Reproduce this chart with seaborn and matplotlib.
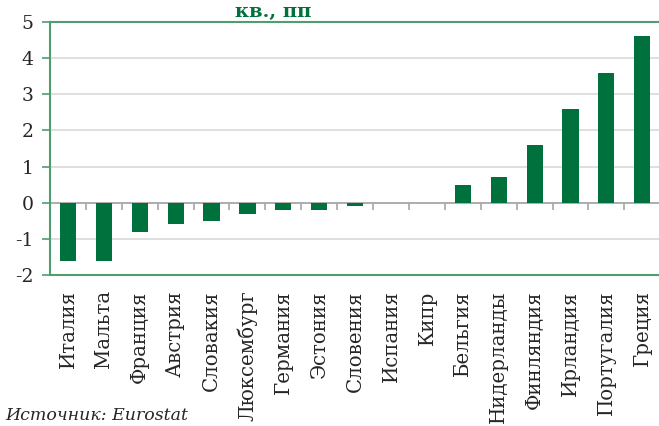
import numpy as np
import matplotlib
matplotlib.use("Agg")
import matplotlib.pyplot as plt
import seaborn as sns

# Данные
countries = ["Италия", "Мальта", "Франция", "Австрия", "Словакия", "Люксембург",
             "Германия", "Эстония", "Словения", "Испания", "Кипр", "Бельгия",
             "Нидерланды", "Финляндия", "Ирландия", "Португалия", "Греция"]
values = [-1.6, -1.6, -0.8, -0.6, -0.5, -0.3, -0.2, -0.2, -0.1, 0.0, 0.0,
          0.5, 0.7, 1.6, 2.6, 3.6, 4.6]
y_ticks = [-2, -1, 0, 1, 2, 3, 4, 5]

bar_color = "#00703C"
frame_color = "#4E9E6E"
text_color = "#262626"

sns.set_style("white")
plt.rcParams['font.family'] = ['DejaVu Serif']

fig = plt.figure(figsize=(6.59, 4.26), dpi=100)
ax = fig.add_axes([0.0759, 0.3545, 0.926, 0.5939])

sns.barplot(x=countries, y=values, color=bar_color, saturation=1, width=0.45,
            edgecolor="none", ax=ax, zorder=3)

ax.set_xlim(-0.5, len(countries) - 0.5)
ax.set_ylim(-2, 5)
ax.set_yticks(y_ticks)
ax.set_yticklabels([str(t) for t in y_ticks])
ax.set_xlabel("")
ax.set_ylabel("")

# сетка и нулевая линия
for t in y_ticks[1:-1]:
    ax.axhline(t, color="#D9D9D9", lw=1.2, zorder=1)
ax.axhline(0, color="#A6A6A6", lw=1.2, zorder=2)

# штрихи между категориями
bounds = np.arange(0.5, len(countries) - 0.5, 1)
ax.vlines(bounds, -0.2, 0, color="#A6A6A6", lw=1.2, zorder=2)

for side in ["top", "bottom", "left"]:
    ax.spines[side].set_color(frame_color)
    ax.spines[side].set_linewidth(1.5)
ax.spines["right"].set_visible(False)

ax.tick_params(axis="y", length=6, width=1.2, color=frame_color, direction="out",
               labelsize=13.5, labelcolor=text_color, pad=6, left=True)
ax.tick_params(axis="x", length=0, labelsize=14.2, labelcolor=text_color,
               pad=11, rotation=90)

fig.text(0.415, 1 - 17 / 426, "кв., пп", ha="center", va="baseline",
         fontsize=14, fontweight="bold", color="#00703C")
fig.text(0.008, 2 / 426, "Источник: Eurostat", ha="left", va="bottom",
         fontsize=12.5, style="italic", color=text_color)

fig.savefig("out.png", dpi=100)
